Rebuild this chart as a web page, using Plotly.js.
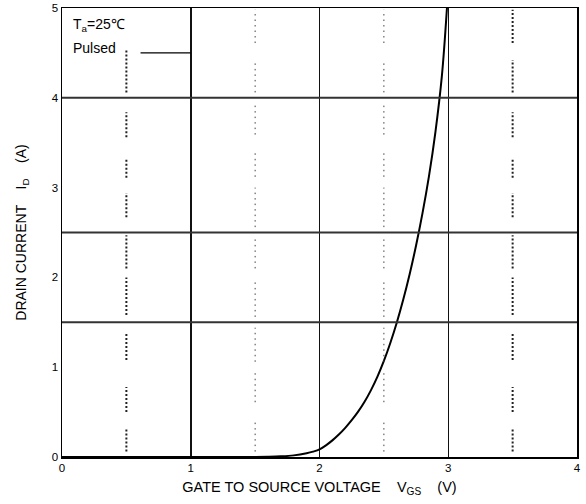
<!DOCTYPE html>
<html>
<head>
<meta charset="utf-8">
<script src="https://cdn.plot.ly/plotly-3.0.1.min.js"></script>
<style>html,body{margin:0;padding:0;background:#fff;}#chart{width:586px;height:504px;}</style>
</head>
<body>
<div id="chart"></div>
<script>
// Transfer characteristic: VGS (V) vs ID (A)
const vgs = [0, 1.5, 1.6, 1.7, 1.8, 1.9, 1.95, 2.0, 2.05, 2.1, 2.15, 2.2, 2.25, 2.3, 2.35, 2.4, 2.45, 2.5, 2.55, 2.6, 2.65, 2.7, 2.75, 2.8, 2.85, 2.9, 2.95, 2.99];
const idA = [0, 0, 0.002, 0.007, 0.018, 0.042, 0.06, 0.085, 0.13, 0.185, 0.25, 0.325, 0.41, 0.505, 0.615, 0.745, 0.895, 1.07, 1.27, 1.495, 1.75, 2.035, 2.355, 2.715, 3.125, 3.615, 4.235, 5.0];
const xTicks = [0, 1, 2, 3, 4];
const yTicks = [0, 1, 2, 3, 4, 5];
const hGrid = [1.5, 2.5, 4];

const font = "Liberation Sans, Arial, sans-serif";

const shapes = [];
hGrid.forEach(v => shapes.push({type:'line', xref:'paper', x0:0, x1:1, yref:'y', y0:v, y1:v,
  line:{color:'#333', width:2}}));

// dotted reference columns (styling segments)
const thickSegs = {
  0.5: [[4.06,4.53],[3.56,3.84],[3.11,3.31],[2.67,2.94],[2.10,2.47],[1.58,2.00],[1.08,1.39],[0.50,0.78],[0.06,0.32]],
  3.5: [[4.61,4.98],[4.06,4.42],[3.56,3.84],[3.11,3.31],[2.67,2.94],[2.10,2.47],[1.58,2.00],[1.08,1.39],[0.50,0.78],[0.06,0.32]]
};
const thinSegs = [[4.61,4.98],[4.06,4.42],[3.59,3.94],[3.12,3.40],[2.56,3.00],[2.10,2.45],[1.56,1.97],[1.06,1.44],[0.61,0.97],[0.06,0.39]];
Object.keys(thickSegs).forEach(k => thickSegs[k].forEach(s => shapes.push({type:'line', xref:'x', yref:'y',
  x0:+k, x1:+k, y0:s[0], y1:s[1], line:{color:'#222', width:2, dash:'2px,2px'}})));
[1.5, 2.5].forEach(k => thinSegs.forEach(s => shapes.push({type:'line', xref:'x', yref:'y',
  x0:k, x1:k, y0:s[0], y1:s[1], line:{color:'#444', width:1, dash:'1.5px,4px'}})));

// legend sample line
shapes.push({type:'line', xref:'x', yref:'y', x0:0.61, x1:1.0, y0:4.5, y1:4.5, line:{color:'#000', width:1.2}});

const trace = {x: vgs, y: idA, type:'scatter', mode:'lines',
  line:{color:'#000', width:2, shape:'spline', smoothing:1}, hoverinfo:'skip'};

const layout = {
  width:586, height:504,
  margin:{l:62, r:9, t:8, b:47},
  paper_bgcolor:'#fff', plot_bgcolor:'#fff',
  showlegend:false,
  font:{family:font, size:11, color:'#000'},
  xaxis:{range:[0,4], tickvals:xTicks, ticktext:xTicks.map(String), showgrid:true, gridcolor:'#111', gridwidth:1.5,
    zeroline:false, showline:true, mirror:true, linecolor:'#000', linewidth:1.5, ticks:'', ticklen:0,
    tickfont:{family:font, size:11.5, color:'#000'},
    title:{text:'GATE TO SOURCE VOLTAGE    V<sub>GS</sub>    (V)', font:{family:font, size:14.5, color:'#000'}, standoff:8}},
  yaxis:{range:[0,5], tickvals:yTicks, ticktext:yTicks.map(String), showgrid:false,
    zeroline:false, showline:true, mirror:true, linecolor:'#000', linewidth:1.5, ticks:'', ticklen:0,
    tickfont:{family:font, size:11.5, color:'#000'},
    title:{text:'DRAIN CURRENT    I<sub>D</sub>    (A)', font:{family:font, size:14, color:'#000'}, standoff:22}},
  shapes: shapes,
  annotations:[
    {xref:'paper', yref:'paper', x:0.018, y:0.962, xanchor:'left', yanchor:'middle', showarrow:false,
     text:'T<sub>a</sub>=25℃', font:{family:font, size:14, color:'#000'}},
    {xref:'paper', yref:'paper', x:0.018, y:0.911, xanchor:'left', yanchor:'middle', showarrow:false,
     text:'Pulsed', font:{family:font, size:14, color:'#000'}}
  ]
};

Plotly.newPlot('chart', [trace], layout, {displayModeBar:false, staticPlot:true});
</script>
</body>
</html>
